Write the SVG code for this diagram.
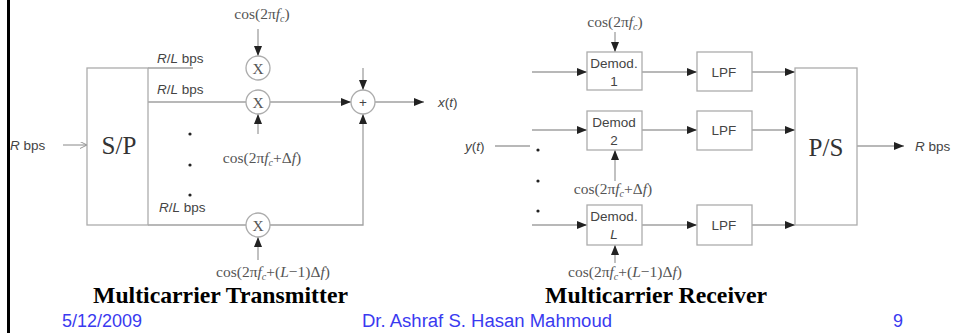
<svg xmlns="http://www.w3.org/2000/svg" width="959" height="333" viewBox="0 0 959 333">
<style>
.ln{stroke:#a0a0a0;stroke-width:1.3;fill:none}
.bx{stroke:#acacac;stroke-width:1.3;fill:#fff}
.ar{stroke:#a0a0a0;stroke-width:1.3;fill:none;marker-end:url(#ah)}
.sn{font-family:"Liberation Sans",Arial,sans-serif;font-size:13.5px;fill:#444}
.sf{font-family:"Liberation Serif","Times New Roman",serif;font-size:15.5px;fill:#555}
.big{font-family:"Liberation Serif","Times New Roman",serif;font-size:25px;fill:#333}
.ttl{font-family:"Liberation Serif","Times New Roman",serif;font-size:23px;font-weight:bold;fill:#000}
.ft{font-family:"Liberation Sans",Arial,sans-serif;font-size:18px;fill:#3a3af0}
.it{font-style:italic}
.dot{fill:#222}
</style>
<defs>
<marker id="ah" viewBox="0 0 10 8" refX="10" refY="4" markerWidth="10" markerHeight="8" markerUnits="userSpaceOnUse" orient="auto">
<path d="M0,0 L10,4 L0,8 z" fill="#222"/>
</marker>
<marker id="oh" viewBox="0 0 8 8" refX="8" refY="4" markerWidth="7" markerHeight="7" markerUnits="userSpaceOnUse" orient="auto">
<path d="M0,0 L8,4 L0,8" fill="none" stroke="#888" stroke-width="1"/>
</marker>
</defs>
<rect x="0" y="0" width="959" height="333" fill="#fff"/>
<rect x="7" y="0" width="3" height="333" fill="#000"/>

<g id="connectors">
<!-- transmitter -->
<line x1="63" y1="145" x2="87" y2="145" stroke="#888" stroke-width="1" marker-end="url(#oh)"/>
<line class="ln" x1="148" y1="68" x2="193" y2="68"/>
<line class="ln" x1="148" y1="102" x2="246" y2="102"/>
<line class="ar" x1="258" y1="29" x2="258" y2="56"/>
<line class="ar" x1="270" y1="102" x2="351" y2="102"/>
<line class="ar" x1="258" y1="134" x2="258" y2="114"/>
<line class="ln" x1="148" y1="225" x2="246" y2="225"/>
<polyline class="ar" points="270,225 363,225 363,114"/>
<line class="ar" x1="258" y1="260" x2="258" y2="237"/>
<line class="ar" x1="363" y1="68" x2="363" y2="90"/>
<line class="ar" x1="375" y1="102" x2="424" y2="102"/>
<!-- receiver -->
<line class="ar" x1="615" y1="32" x2="615" y2="52"/>
<line class="ar" x1="532" y1="72" x2="587" y2="72"/>
<line class="ar" x1="642" y1="72" x2="697" y2="72"/>
<line class="ar" x1="752" y1="72" x2="795" y2="72"/>
<line class="ar" x1="532" y1="130" x2="587" y2="130"/>
<line class="ar" x1="642" y1="130" x2="697" y2="130"/>
<line class="ar" x1="752" y1="130" x2="795" y2="130"/>
<line class="ar" x1="615" y1="181" x2="615" y2="150"/>
<line class="ar" x1="532" y1="225" x2="587" y2="225"/>
<line class="ar" x1="642" y1="225" x2="697" y2="225"/>
<line class="ar" x1="752" y1="225" x2="795" y2="225"/>
<line class="ar" x1="615" y1="263" x2="615" y2="245"/>
<line class="ln" x1="495" y1="146" x2="530" y2="146"/>
<line class="ar" x1="857" y1="146" x2="904" y2="146"/>
</g>

<g id="tx-input">
<text class="sn" x="10" y="150" font-size="15"><tspan class="it">R</tspan> bps</text>
</g>
<g id="sp">
<rect class="bx" x="87" y="68" width="61" height="157"/>
<text class="big" x="119" y="154" text-anchor="middle">S/P</text>
</g>
<g id="tx-labels">
<text class="sn" x="157" y="63"><tspan class="it">R</tspan>/<tspan class="it">L</tspan> bps</text>
<text class="sn" x="157" y="94"><tspan class="it">R</tspan>/<tspan class="it">L</tspan> bps</text>
<text class="sn" x="159" y="212"><tspan class="it">R</tspan>/<tspan class="it">L</tspan> bps</text>
<circle class="dot" cx="190" cy="134" r="1.6"/>
<circle class="dot" cx="190" cy="165" r="1.6"/>
<circle class="dot" cx="190" cy="195" r="1.6"/>
</g>
<g id="mix1">
<circle class="bx" cx="258" cy="68" r="12"/>
<text class="sf" x="258" y="74" text-anchor="middle" font-size="17" fill="#333">X</text>
<text class="sf" x="262" y="19" text-anchor="middle">cos(2π<tspan class="it">f</tspan><tspan class="it" dy="3" font-size="10">c</tspan><tspan dy="-3">)</tspan></text>
</g>
<g id="mix2">
<circle class="bx" cx="258" cy="102" r="12"/>
<text class="sf" x="258" y="108" text-anchor="middle" font-size="17" fill="#333">X</text>
<text class="sf" x="262" y="163" text-anchor="middle">cos(2π<tspan class="it">f</tspan><tspan class="it" dy="3" font-size="10">c</tspan><tspan dy="-3">+Δ</tspan><tspan class="it">f</tspan>)</text>
</g>
<g id="mixL">
<circle class="bx" cx="258" cy="225" r="12"/>
<text class="sf" x="258" y="231" text-anchor="middle" font-size="17" fill="#333">X</text>
<text class="sf" x="273" y="277" text-anchor="middle">cos(2π<tspan class="it">f</tspan><tspan class="it" dy="3" font-size="10">c</tspan><tspan dy="-3">+(</tspan><tspan class="it">L</tspan>−1)Δ<tspan class="it">f</tspan>)</text>
</g>
<g id="sum">
<circle class="bx" cx="363" cy="102" r="12"/>
<text class="sn" x="363" y="107" text-anchor="middle" font-size="15" fill="#666">+</text>
<text class="sn" x="438" y="107" font-size="16"><tspan class="it">x</tspan>(<tspan class="it">t</tspan>)</text>
</g>

<g id="rx-input">
<text class="sn" x="465" y="151" font-size="16"><tspan class="it">y</tspan>(<tspan class="it">t</tspan>)</text>
<circle class="dot" cx="538" cy="150" r="1.6"/>
<circle class="dot" cx="538" cy="181" r="1.6"/>
<circle class="dot" cx="538" cy="211" r="1.6"/>
</g>
<g id="demod1">
<rect class="bx" x="587" y="52" width="55" height="38"/>
<text class="sn" x="614" y="68" text-anchor="middle">Demod.</text>
<text class="sn" x="614" y="86" text-anchor="middle">1</text>
<text class="sf" x="615" y="27" text-anchor="middle">cos(2π<tspan class="it">f</tspan><tspan class="it" dy="3" font-size="10">c</tspan><tspan dy="-3">)</tspan></text>
</g>
<g id="lpf1">
<rect class="bx" x="697" y="52" width="55" height="39"/>
<text class="sn" x="724" y="77" text-anchor="middle" font-size="14">LPF</text>
</g>
<g id="demod2">
<rect class="bx" x="587" y="111" width="55" height="39"/>
<text class="sn" x="614" y="127" text-anchor="middle">Demod</text>
<text class="sn" x="614" y="145" text-anchor="middle">2</text>
<text class="sf" x="613" y="194" text-anchor="middle">cos(2π<tspan class="it">f</tspan><tspan class="it" dy="3" font-size="10">c</tspan><tspan dy="-3">+Δ</tspan><tspan class="it">f</tspan>)</text>
</g>
<g id="lpf2">
<rect class="bx" x="697" y="111" width="55" height="39"/>
<text class="sn" x="724" y="135" text-anchor="middle" font-size="14">LPF</text>
</g>
<g id="demodL">
<rect class="bx" x="587" y="205" width="55" height="40"/>
<text class="sn" x="614" y="221" text-anchor="middle">Demod.</text>
<text class="sn it" x="614" y="239" text-anchor="middle">L</text>
<text class="sf" x="625" y="277" text-anchor="middle">cos(2π<tspan class="it">f</tspan><tspan class="it" dy="3" font-size="10">c</tspan><tspan dy="-3">+(</tspan><tspan class="it">L</tspan>−1)Δ<tspan class="it">f</tspan>)</text>
</g>
<g id="lpfL">
<rect class="bx" x="697" y="205" width="55" height="40"/>
<text class="sn" x="724" y="230" text-anchor="middle" font-size="14">LPF</text>
</g>
<g id="ps">
<rect class="bx" x="795" y="68" width="62" height="157"/>
<text class="big" x="826" y="156" text-anchor="middle">P/S</text>
<text class="sn" x="915" y="151" font-size="15"><tspan class="it">R</tspan> bps</text>
</g>

<g id="titles">
<text class="ttl" x="93" y="303" textLength="255" lengthAdjust="spacingAndGlyphs">Multicarrier Transmitter</text>
<text class="ttl" x="545" y="303" textLength="222" lengthAdjust="spacingAndGlyphs">Multicarrier Receiver</text>
</g>
<g id="footer">
<text class="ft" x="62" y="327">5/12/2009</text>
<text class="ft" x="362" y="327" textLength="250" lengthAdjust="spacingAndGlyphs">Dr. Ashraf S. Hasan Mahmoud</text>
<text class="ft" x="893" y="327">9</text>
</g>
</svg>
